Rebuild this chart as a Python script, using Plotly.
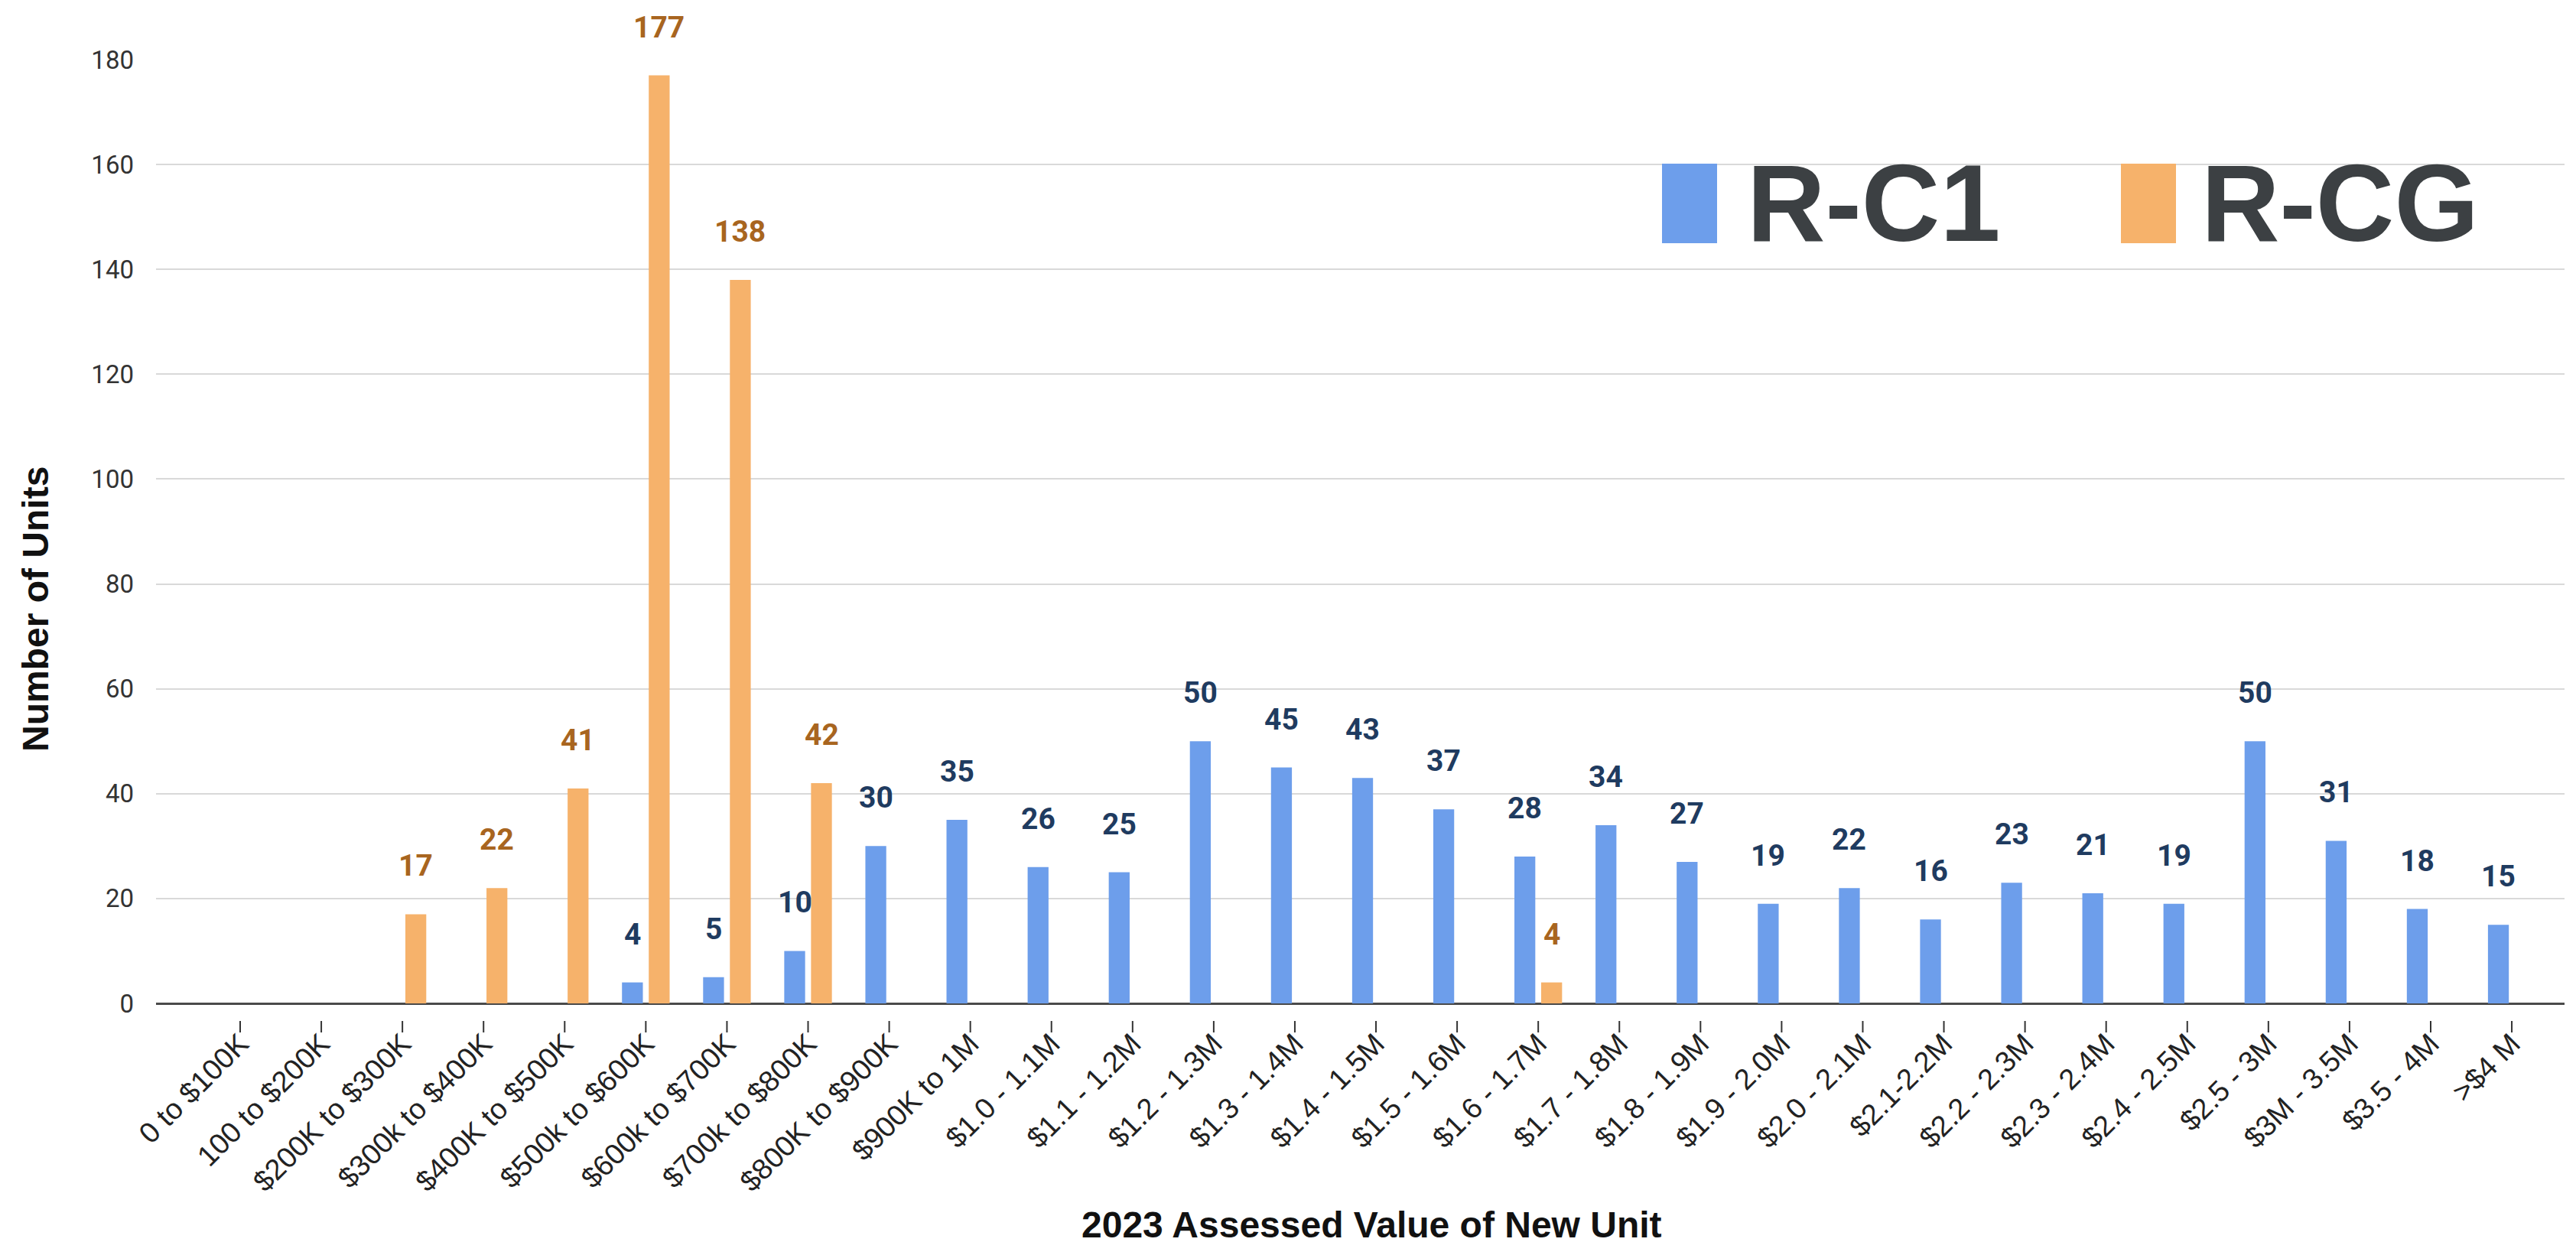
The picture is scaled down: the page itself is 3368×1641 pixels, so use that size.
import plotly.graph_objects as go

# Assessed-value bands (x categories)
categories = [
    "0 to $100K", "100 to $200K", "$200K to $300K", "$300k to $400K",
    "$400K to $500K", "$500k to $600K", "$600k to $700K", "$700k to $800K",
    "$800K to $900K", "$900K to 1M", "$1.0 - 1.1M", "$1.1 - 1.2M",
    "$1.2 - 1.3M", "$1.3 - 1.4M", "$1.4 - 1.5M", "$1.5 - 1.6M",
    "$1.6 - 1.7M", "$1.7 - 1.8M", "$1.8 - 1.9M", "$1.9 - 2.0M",
    "$2.0 - 2.1M", "$2.1-2.2M", "$2.2 - 2.3M", "$2.3 - 2.4M",
    "$2.4 - 2.5M", "$2.5 - 3M", "$3M - 3.5M", "$3.5 - 4M", ">$4 M",
]

# Number of new units per band, by zone
rc1_units = [0, 0, 0, 0, 0, 4, 5, 10, 30, 35, 26, 25, 50, 45, 43, 37,
             28, 34, 27, 19, 22, 16, 23, 21, 19, 50, 31, 18, 15]
rcg_units = [0, 0, 17, 22, 41, 177, 138, 42, 0, 0, 0, 0, 0, 0, 0, 0,
             4, 0, 0, 0, 0, 0, 0, 0, 0, 0, 0, 0, 0]

y_ticks = [0, 20, 40, 60, 80, 100, 120, 140, 160, 180]

series_names = ["R-C1", "R-CG"]
bar_colors = ["#6d9eeb", "#f6b26b"]
label_colors = ["#1f3b60", "#a8651f"]

W, H = 3368, 1641
L, R, T, B = 204, 15, 78, 329
plot_w = W - L - R
plot_h = H - T - B


def px_x(px):
    return (px - L) / plot_w


def px_y(py):
    return (H - B - py) / plot_h


fig = go.Figure()
for name, vals, color in zip(series_names, [rc1_units, rcg_units], bar_colors):
    fig.add_trace(go.Bar(
        x=categories, y=vals, name=name,
        marker=dict(color=color, line=dict(width=0)),
        showlegend=False,
    ))

annotations = []
# value labels above each non-zero bar
for vals, color, shift in zip([rc1_units, rcg_units], label_colors, [-17.5, 17.5]):
    for cat, v in zip(categories, vals):
        if v:
            annotations.append(dict(
                x=cat, y=v, xref="x", yref="y", text=f"<b>{v}</b>",
                showarrow=False, xshift=shift, yshift=63,
                xanchor="center", yanchor="middle",
                font=dict(family="Roboto, Arial, sans-serif", size=39, color=color),
            ))

# axis titles
annotations.append(dict(
    x=px_x(1794), y=px_y(1601), xref="paper", yref="paper",
    text="<b>2023 Assessed Value of New Unit</b>", showarrow=False,
    xanchor="center", yanchor="middle",
    font=dict(family="Liberation Sans, Arial, sans-serif", size=48, color="#111111"),
))
annotations.append(dict(
    x=px_x(46), y=px_y(797), xref="paper", yref="paper",
    text="<b>Number of Units</b>", showarrow=False, textangle=-90,
    xanchor="center", yanchor="middle",
    font=dict(family="Liberation Sans, Arial, sans-serif", size=48, color="#111111"),
))

shapes = []
# legend panel
shapes.append(dict(
    type="rect", xref="paper", yref="paper",
    x0=px_x(2087), x1=px_x(3312), y0=px_y(395), y1=px_y(170),
    fillcolor="white", line=dict(width=0), layer="between",
))
swatch_left = [2173, 2773]
text_left = [2282, 2876]
for name, color, sx, tx in zip(series_names, bar_colors, swatch_left, text_left):
    shapes.append(dict(
        type="rect", xref="paper", yref="paper",
        x0=px_x(sx), x1=px_x(sx + 72), y0=px_y(318), y1=px_y(214),
        fillcolor=color, line=dict(width=0), layer="above",
    ))
    annotations.append(dict(
        x=px_x(tx), y=px_y(265), xref="paper", yref="paper",
        text=f"<b>{name}</b>", showarrow=False,
        xanchor="left", yanchor="middle",
        font=dict(family="Liberation Sans, Arial, sans-serif", size=142, color="#3c4043"),
    ))

# small tick marks under the baseline
for cat in categories:
    shapes.append(dict(
        type="line", xref="x", yref="paper", x0=cat, x1=cat,
        y0=px_y(1335), y1=px_y(1350),
        line=dict(color="#333333", width=2),
    ))

fig.update_layout(
    width=W, height=H,
    margin=dict(l=L, r=R, t=T, b=B),
    paper_bgcolor="white", plot_bgcolor="white",
    barmode="group", bargap=0.34, bargroupgap=0.22,
    annotations=annotations, shapes=shapes,
    showlegend=False,
    font=dict(family="Liberation Sans, Arial, sans-serif", color="#222222"),
)
fig.update_xaxes(
    type="category", range=[-1.037, 28.65],
    tickangle=-45, tickfont=dict(size=38, color="#222222"),
    showgrid=False, showline=False, ticks="",
    ticklabelstandoff=22,
)
fig.update_yaxes(
    range=[0, 180], tickvals=y_ticks,
    tickfont=dict(family="Roboto, Arial, sans-serif", size=33, color="#333333"),
    showgrid=True, gridcolor="#d9d9d9", gridwidth=2,
    zeroline=True, zerolinecolor="#4a4a4a", zerolinewidth=3,
    showline=False, ticks="", ticklabelstandoff=28,
)

fig.write_html("out.html")
